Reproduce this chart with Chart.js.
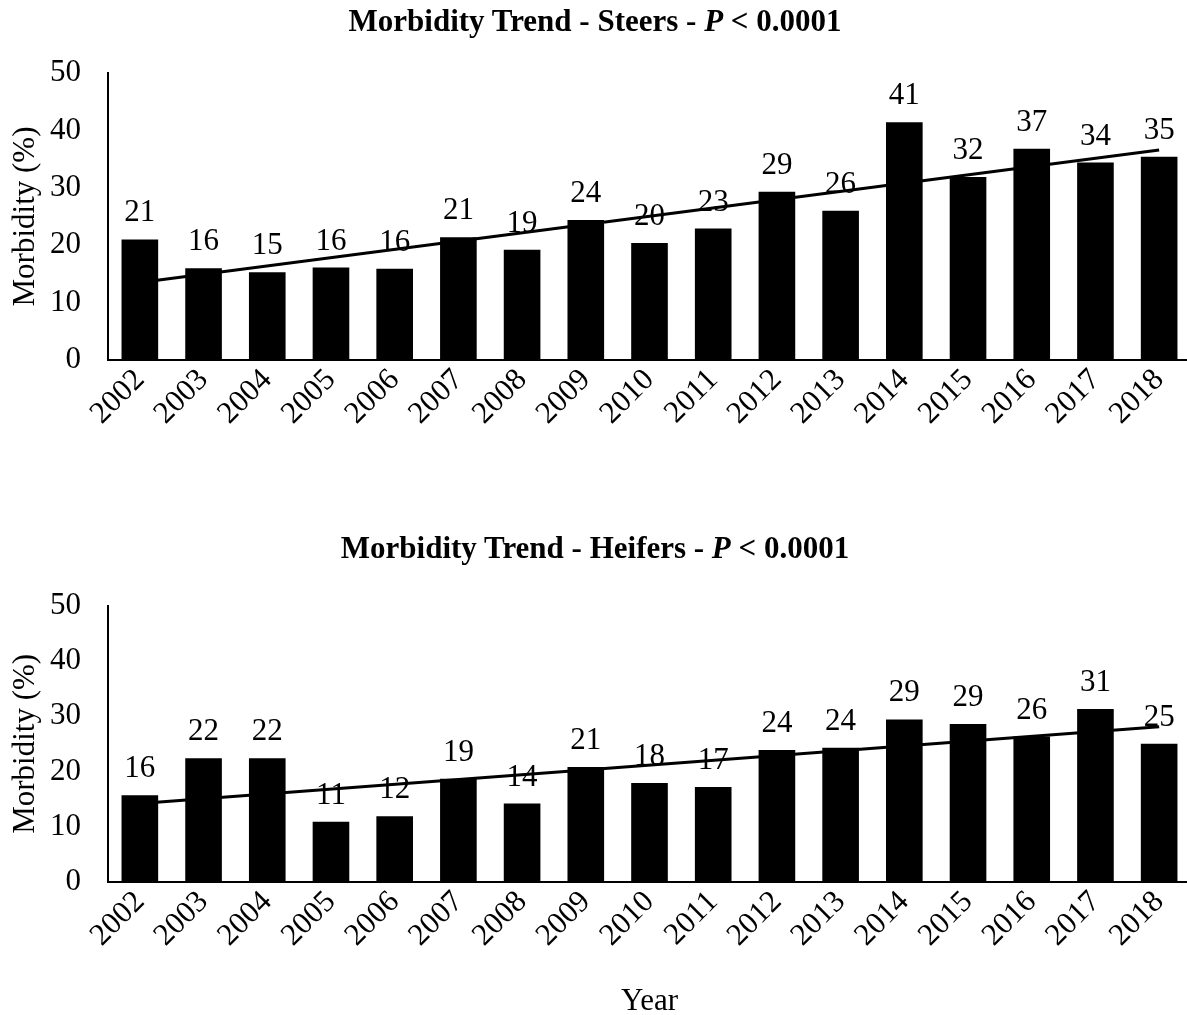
<!DOCTYPE html>
<html>
<head>
<meta charset="utf-8">
<script src="https://cdn.jsdelivr.net/npm/chart.js@4/dist/chart.umd.min.js"></script>
<style>
  body { margin: 0; background: #fff; overflow: hidden; }
  #wrap { position: relative; width: 1187px; height: 1015px; overflow: hidden; }
  canvas { position: absolute; left: 0; }
  .title {
    position: absolute; left: 0; width: 1190px; text-align: center;
    font: bold 31px "Liberation Serif", "Times New Roman", serif; color: #000; z-index: 2;
  }
</style>
</head>
<body>
<div id="wrap">
  <div class="title" style="top:3px">Morbidity Trend - Steers - <i>P</i> &lt; 0.0001</div>
  <canvas id="steers" width="1191" height="440" style="top:0"></canvas>
  <div class="title" style="top:530px">Morbidity Trend - Heifers - <i>P</i> &lt; 0.0001</div>
  <canvas id="heifers" width="1191" height="460" style="top:560px"></canvas>
</div>
<script>
const years = ['2002', '2003', '2004', '2005', '2006', '2007', '2008', '2009', '2010',
  '2011', '2012', '2013', '2014', '2015', '2016', '2017', '2018'];

// morbidity (%) per year
const steers = [21.0, 16.0, 15.3, 16.1, 15.9, 21.4, 19.2, 24.4, 20.4, 22.9, 29.3, 26.0, 41.4, 31.9, 36.8, 34.4, 35.4];
const heifers = [15.7, 22.4, 22.4, 10.9, 11.9, 18.7, 14.2, 20.8, 17.9, 17.2, 23.9, 24.3, 29.4, 28.6, 26.3, 31.3, 25.0];

// linear trend, only the two end points
const steersTrend = [13.5, null, null, null, null, null, null, null, null, null, null, null, null, null, null, null, 36.6];
const heifersTrend = [14.2, null, null, null, null, null, null, null, null, null, null, null, null, null, null, null, 28.1];

const FONT = '"Liberation Serif", "Times New Roman", serif';
const SIZE = 31;

// draws the rounded value above each bar
const barLabels = {
  id: 'barLabels',
  afterDatasetsDraw(chart) {
    const ctx = chart.ctx;
    const meta = chart.getDatasetMeta(0);
    const data = chart.data.datasets[0].data;
    ctx.save();
    ctx.font = SIZE + 'px ' + FONT;
    ctx.fillStyle = '#000';
    ctx.textAlign = 'center';
    ctx.textBaseline = 'alphabetic';
    meta.data.forEach((bar, i) => {
      ctx.fillText(String(Math.round(data[i])), bar.x, bar.y - 18);
    });
    ctx.restore();
  }
};

function makeChart(id, values, trend, opts) {
  const ctx = document.getElementById(id).getContext('2d');
  return new Chart(ctx, {
    type: 'bar',
    data: {
      labels: years,
      datasets: [
        {
          type: 'bar',
          data: values,
          backgroundColor: '#000',
          borderWidth: 0,
          categoryPercentage: 1,
          barPercentage: 0.575,
          order: 2
        },
        {
          type: 'line',
          data: trend,
          borderColor: '#000',
          borderWidth: 3,
          pointRadius: 0,
          spanGaps: true,
          order: 1
        }
      ]
    },
    options: {
      responsive: false,
      animation: false,
      layout: { padding: { top: opts.top, right: 0, left: 0, bottom: 0 } },
      plugins: {
        legend: { display: false },
        tooltip: { enabled: false },
        title: { display: false }
      },
      scales: {
        x: {
          grid: { display: false, drawTicks: false },
          border: { display: true, color: '#000', width: 2 },
          ticks: {
            color: '#000',
            font: { family: FONT, size: SIZE },
            minRotation: 45,
            maxRotation: 45,
            padding: 2,
            autoSkip: false
          },
          title: {
            display: opts.xTitle,
            text: 'Year',
            color: '#000',
            font: { family: FONT, size: SIZE },
            padding: { top: 0, bottom: 0 }
          },
          afterFit(scale) {
            scale.height = opts.xHeight;
            scale.paddingLeft = 0;
            scale.paddingRight = 0;
          }
        },
        y: {
          min: 0,
          max: 50,
          grid: { display: false, drawTicks: false },
          border: { display: true, color: '#000', width: 2 },
          ticks: {
            stepSize: 10,
            color: '#000',
            font: { family: FONT, size: SIZE },
            padding: 27
          },
          title: {
            display: true,
            text: 'Morbidity (%)',
            color: '#000',
            font: { family: FONT, size: SIZE },
            padding: { top: 7, bottom: 0 }
          },
          afterFit(scale) {
            scale.width = 108;
          }
        }
      }
    },
    plugins: [barLabels]
  });
}

makeChart('steers', steers, steersTrend, { top: 73, xHeight: 80, xTitle: false });
makeChart('heifers', heifers, heifersTrend, { top: 37, xHeight: 138, xTitle: true });
</script>
</body>
</html>
